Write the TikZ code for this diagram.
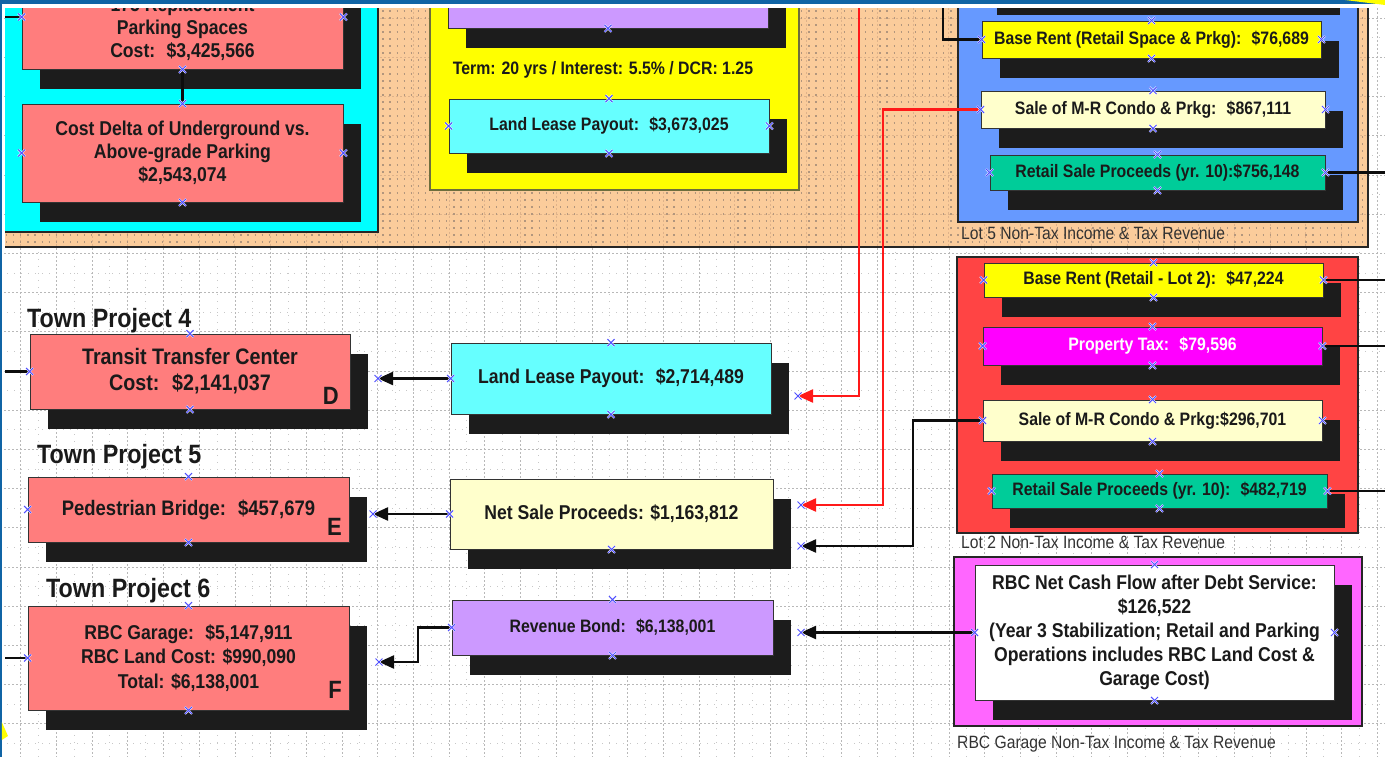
\documentclass[tikz,border=0pt]{standalone}
\usepackage{fontspec}
\setmainfont{Liberation Sans}[FakeStretch=0.88]
\usetikzlibrary{shadows,arrows.meta,calc}
\definecolor{peach}{RGB}{251,204,155}
\definecolor{pinkc}{RGB}{255,125,125}
\definecolor{cyanbox}{RGB}{102,255,255}
\definecolor{cyanreg}{RGB}{0,255,255}
\definecolor{purplec}{RGB}{204,153,255}
\definecolor{creamc}{RGB}{255,255,204}
\definecolor{yellowc}{RGB}{255,255,0}
\definecolor{greenc}{RGB}{0,204,153}
\definecolor{magc}{RGB}{255,0,255}
\definecolor{bluereg}{RGB}{102,153,255}
\definecolor{redreg}{RGB}{255,68,68}
\definecolor{magreg}{RGB}{255,102,255}
\definecolor{shadowc}{RGB}{28,28,28}
\definecolor{topblue}{RGB}{16,100,165}
\definecolor{markblue}{RGB}{80,80,255}
\definecolor{redline}{RGB}{255,25,25}
\definecolor{dotc}{RGB}{178,150,125}
\definecolor{ogrid}{RGB}{222,178,138}
\definecolor{capc}{RGB}{50,50,50}
\definecolor{textc}{RGB}{26,26,26}
\definecolor{olivebd}{RGB}{110,110,60}
\begin{document}
\begin{tikzpicture}[x=1pt,y=-1pt,
  dbox/.style={draw=black!80, line width=0.9pt, inner sep=0pt, align=center, text=textc,
    drop shadow={shadow xshift=18pt, shadow yshift=-20pt, fill=shadowc, opacity=1}},
  fA/.style={font=\bfseries\fontsize{20}{23}\selectfont},
  fS/.style={font=\bfseries\fontsize{18}{21}\selectfont},
  ttl/.style={font=\bfseries\fontsize{26.5}{30}\selectfont, inner sep=0pt, anchor=base west, text=textc},
  captxt/.style={font=\fontsize{17.8}{20}\selectfont, inner sep=0pt, anchor=base west, text=capc},
  lettr/.style={font=\bfseries\fontsize{25}{27}\selectfont, inner sep=0pt, anchor=base east, text=textc},
  conn/.style={line width=2.2pt, draw=black!95},
  arr/.style={conn, -{Triangle[length=15pt,width=13pt]}},
  rarr/.style={arr, draw=redline},
  majorgrid/.style={draw=black!28, line width=0.6pt, dash pattern=on 2pt off 2pt},
  minorgrid/.style={draw=black!22, line width=0.8pt, dash pattern=on 0.8pt off 6.2pt},
  regionbd/.style={draw=black!85, line width=1.3pt},
  xmk/.pic={\draw[white,line width=2pt] (-3.5,-3.5)--(3.5,3.5) (-3.5,3.5)--(3.5,-3.5);
            \draw[markblue,line width=1pt] (-3.5,-3.5)--(3.5,3.5) (-3.5,3.5)--(3.5,-3.5);}
]
\useasboundingbox (0,0) rectangle (1385,757);
\clip (0,0) rectangle (1385,757);
\fill[white] (0,0) rectangle (1385,757);
% grid
\foreach \i in {0,...,38} {
  \draw[majorgrid] ({20.6+35.7*\i},0) -- ++(0,757);
  \draw[minorgrid] ({38.45+35.7*\i},0) -- ++(0,757);
}
\foreach \j in {0,...,19} {
  \draw[majorgrid] (0,{18.1+39.2*\j}) -- ++(1385,0);
  \draw[minorgrid] (0,{37.7+39.2*\j}) -- ++(1385,0);
}
% orange region
\fill[peach] (5,-5) rectangle (1368,247);
\begin{scope}
  \clip (5,-5) rectangle (1368,247);
  \foreach \i in {0,...,38} \draw[draw=ogrid, line width=0.7pt, dash pattern=on 2pt off 2pt] ({20.6+35.7*\i},0) -- ++(0,247);
  \foreach \j in {0,...,6} \draw[draw=ogrid, line width=0.7pt, dash pattern=on 2pt off 2pt] (0,{18.1+39.2*\j}) -- ++(1368,0);
  \foreach \j in {0,...,34} \draw[draw=dotc, line width=1.2pt, dash pattern=on 1.2pt off 5.9pt] (6,{11+7*\j}) -- (1368,{11+7*\j});
\end{scope}
\draw[regionbd] (5,247) -- (1368,247) -- (1368,-5);
% cyan region
\fill[cyanreg] (5,-5) rectangle (378,232);
\draw[regionbd] (5,232) -- (378,232) -- (378,-5);
% yellow region
\filldraw[fill=yellowc, draw=olivebd, line width=1.3pt] (430,-5) rectangle (799,190);
% blue region
\filldraw[fill=bluereg, regionbd] (958,-5) rectangle (1358,222);
% red region
\filldraw[fill=redreg, regionbd] (957,257) rectangle (1358,533);
% magenta region
\filldraw[fill=magreg, regionbd] (954,557) rectangle (1362,726);
% captions
\node[captxt] (cap5) at (961,240) {Lot 5 Non-Tax Income \& Tax Revenue};
\node[captxt] (cap2) at (961,548) {Lot 2 Non-Tax Income \& Tax Revenue};
\node[captxt] (capR) at (957,748) {RBC Garage Non-Tax Income \& Tax Revenue};
% partial shadow at top of Lot 5
\fill[shadowc] (997,-10) rectangle (1340,15);
% top-left boxes
\node[dbox, fill=pinkc, minimum width=321pt, minimum height=104pt] (pA) at (182.5,17) {};
\node[fA, inner sep=0pt, align=center, text=textc] (pAt) at (182.5,29)
  {175 Replacement\\Parking Spaces\\Cost:~ \$3,425,566};
\node[dbox, fill=pinkc, fA, minimum width=321pt, minimum height=98pt] (pB) at (182.5,153)
  {Cost Delta of Underground vs.\\Above-grade Parking\\\$2,543,074};
% yellow region content
\node[dbox, fill=purplec, minimum width=320pt, minimum height=58pt] (pTop) at (608,-1) {};
\node[fS, inner sep=0pt, text=textc] (term) at (603,70) {Term: 20 yrs / Interest: 5.5\% / DCR: 1.25};
\node[dbox, fill=cyanbox, fS, minimum width=320pt, minimum height=54pt] (LL1) at (609,126) {Land Lease Payout:~ \$3,673,025};
% middle column
\node[dbox, fill=cyanbox, fA, minimum width=320pt, minimum height=71pt] (LL2) at (611,378.5) {Land Lease Payout:~ \$2,714,489};
\node[dbox, fill=creamc, fA, minimum width=323pt, minimum height=70pt] (NSP) at (611.5,514) {Net Sale Proceeds: \$1,163,812};
\node[dbox, fill=purplec, fS, minimum width=321pt, minimum height=55pt] (RB) at (612.5,627.5) {Revenue Bond:~ \$6,138,001};
% left column
\node[ttl] (t4) at (27,327) {Town Project 4};
\node[ttl] (t5) at (37,463) {Town Project 5};
\node[ttl] (t6) at (46,597) {Town Project 6};
\node[dbox, fill=pinkc, font=\bfseries\fontsize{22.4}{26}\selectfont, minimum width=320pt, minimum height=75pt] (TTC) at (190,371.5)
  {Transit Transfer Center\\Cost:~ \$2,141,037};
\node[dbox, fill=pinkc, font=\bfseries\fontsize{21}{24}\selectfont, minimum width=321pt, minimum height=65pt] (PB) at (188.5,509.5)
  {Pedestrian Bridge:~ \$457,679};
\node[dbox, fill=pinkc, font=\bfseries\fontsize{20}{24.5}\selectfont, minimum width=321pt, minimum height=104pt] (RBCG) at (188.5,658)
  {RBC Garage:~ \$5,147,911\\RBC Land Cost: \$990,090\\Total: \$6,138,001};
\node[lettr] (lD) at (339,404) {D};
\node[lettr] (lE) at (342,535) {E};
\node[lettr] (lF) at (342,698) {F};
% Lot 5 boxes
\node[dbox, fill=yellowc, fS, minimum width=339pt, minimum height=37pt] (BR5) at (1151.5,39.5) {Base Rent (Retail Space \& Prkg):~ \$76,689};
\node[dbox, fill=creamc, fS, minimum width=344pt, minimum height=37pt] (SC5) at (1153,109.5) {Sale of M-R Condo \& Prkg:~ \$867,111};
\node[dbox, fill=greenc, fS, minimum width=335pt, minimum height=35pt] (RS5) at (1157.5,172.5) {Retail Sale Proceeds (yr. 10):\$756,148};
% Lot 2 boxes
\node[dbox, fill=yellowc, fS, minimum width=339pt, minimum height=34pt] (BR2) at (1153.5,280) {Base Rent (Retail - Lot 2):~ \$47,224};
\node[dbox, fill=magc, fS, text=white, minimum width=339pt, minimum height=38pt] (PT2) at (1152.5,346) {Property Tax:~ \$79,596};
\node[dbox, fill=creamc, fS, minimum width=339pt, minimum height=41pt] (SC2) at (1152.5,420.5) {Sale of M-R Condo \& Prkg:\$296,701};
\node[dbox, fill=greenc, fS, minimum width=335pt, minimum height=34pt] (RS2) at (1159.5,491) {Retail Sale Proceeds (yr. 10):~ \$482,719};
% RBC garage box
\node[dbox, fill=white, font=\bfseries\fontsize{20}{24}\selectfont, minimum width=359pt, minimum height=135pt] (WB) at (1154.5,632.5)
  {RBC Net Cash Flow after Debt Service:\\\$126,522\\(Year 3 Stabilization; Retail and Parking\\Operations includes RBC Land Cost \&\\Garage Cost)};
% connector end points
\coordinate (tlIn) at (5,17);
\coordinate (b5top) at (943,0);
\coordinate (r1top) at (859,0);
\coordinate (LL2in) at (798,396);
\coordinate (r2k) at (883,505);
\coordinate (NSPin1) at (801,505);
\coordinate (b2k) at (913,546);
\coordinate (NSPin2) at (801,546);
\coordinate (RBin) at (801,632.5);
\coordinate (TTCin) at (378,378.5);
\coordinate (PBin) at (373,514);
\coordinate (RBk) at (418,662);
\coordinate (RBCGin) at (379,662);
\coordinate (o1) at (1385,172.5);
\coordinate (o2) at (1385,280);
\coordinate (o3) at (1385,346);
\coordinate (o4) at (1385,491);
\coordinate (lTTC) at (5,371.5);
\coordinate (lRBCG) at (5,658);
% connectors
\draw[conn] (tlIn) -- (pA.west);
\draw[conn] (pA.south) -- (pB.north);
\draw[conn] (b5top) |- (BR5.west);
\draw[rarr] (r1top) |- (LL2in);
\draw[rarr] (SC5.west) -| (r2k) -- (NSPin1);
\draw[arr] (SC2.west) -| (b2k) -- (NSPin2);
\draw[arr] (WB.west) -- (RBin);
\draw[arr] (LL2.west) -- (TTCin);
\draw[arr] (NSP.west) -- (PBin);
\draw[arr] (RB.west) -| (RBk) -- (RBCGin);
\draw[conn] (RS5.east) -- (o1);
\draw[conn] (BR2.east) -- (o2);
\draw[conn] (PT2.east) -- (o3);
\draw[conn] (RS2.east) -- (o4);
\draw[conn] (lTTC) -- (TTC.west);
\draw[conn] (lRBCG) -- (RBCG.west);
% connection point markers
\foreach \n in {pA,pB,pTop,LL1,BR5,SC5,RS5,BR2,PT2,SC2,RS2,WB}
  \foreach \a in {north,south,east,west} \pic at (\n.\a) {xmk};
\foreach \n in {TTC,PB,RBCG,LL2,RB}
  \foreach \a in {north,south,west} \pic at (\n.\a) {xmk};
\foreach \a in {south,west} \pic at (NSP.\a) {xmk};
\foreach \c in {TTCin,PBin,RBCGin,LL2in,NSPin1,NSPin2,RBin} \pic at (\c) {xmk};
% window frame
\fill[topblue] (0,0) rectangle (1385,4.5);
\fill[white] (0,4.5) rectangle (1385,8);
\fill[topblue] (0,0) rectangle (1.8,757);
\fill[yellowc] (1345,0) -- (1385,0) -- (1385,5) -- cycle;
\fill[yellowc] (1.8,722) -- (8,736) -- (1.8,740) -- cycle;
\end{tikzpicture}
\end{document}
